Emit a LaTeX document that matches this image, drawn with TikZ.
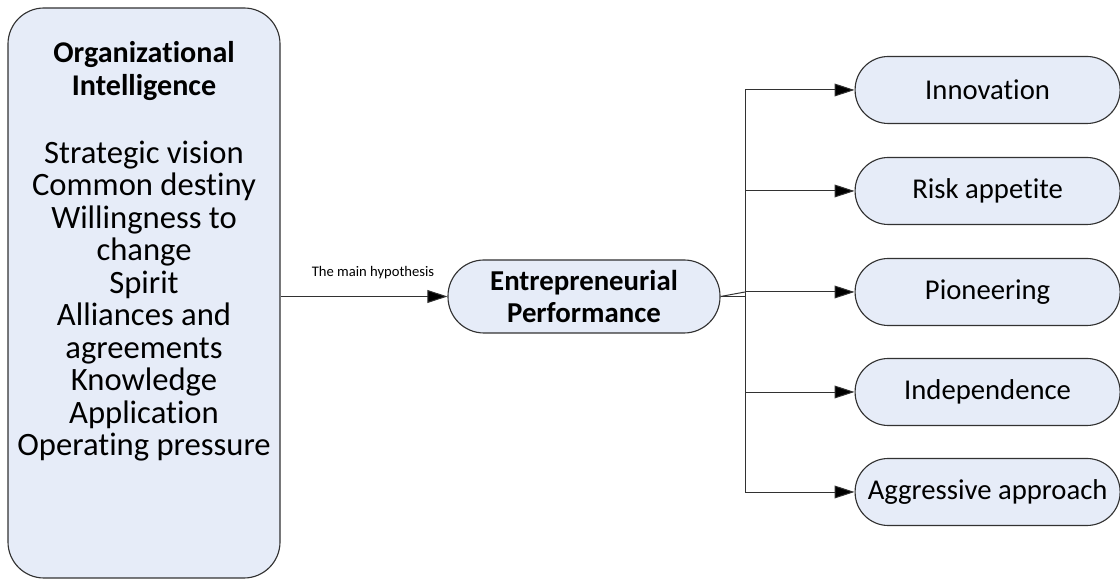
\documentclass[tikz,border=0pt]{standalone}
\usepackage{fontspec}
\setmainfont{Carlito}[Ligatures=NoCommon]
\usetikzlibrary{positioning, arrows.meta, calc}
\definecolor{boxfill}{RGB}{230,236,248}
\definecolor{edgegray}{RGB}{50,50,50}

\begin{document}
\begin{tikzpicture}[
	bigbox/.style={draw=edgegray,line width=0.8pt,fill=boxfill,rounded corners=0.9cm,
		minimum width=6.8cm,minimum height=14.25cm},
	pill/.style={draw=edgegray,line width=0.8pt,fill=boxfill,rounded corners=0.83cm,
		minimum width=6.625cm,minimum height=1.675cm,font=\fontsize{20.4}{22}\selectfont},
	arr/.style={draw=edgegray,line width=0.7pt,-{Triangle[length=0.5cm,width=0.32cm,fill=black]}}]
	\useasboundingbox (0,0) rectangle (28,14.5);
	% left block
	\node[bigbox] (oi) at (3.6,7.175) {};
	\node[align=center,font=\bfseries\fontsize{21.4}{23.5}\selectfont] (oititle) at (3.6,12.725)
		{Organizational\\Intelligence};
	\node[align=center,font=\fontsize{23.2}{23.1}\selectfont] (oilist) at (3.6,6.975)
		{Strategic vision\\Common destiny\\Willingness to\\change\\Spirit\\Alliances and\\
		agreements\\Knowledge\\Application\\Operating pressure};
	% middle
	\node[draw=edgegray,line width=0.8pt,fill=boxfill,rounded corners=0.9cm,
		minimum width=6.8cm,minimum height=1.825cm,align=center,
		font=\bfseries\fontsize{20.5}{23}\selectfont] (ep) at (14.6,7.0875)
		{Entrepreneurial\\Performance};
	% right column
	\node[pill] (inn) at (24.69,12.25) {Innovation};
	\node[pill] (risk) at (24.69,9.725) {Risk appetite};
	\node[pill] (pio) at (24.69,7.2) {Pioneering};
	\node[pill] (ind) at (24.69,4.7) {Independence};
	\node[pill] (agg) at (24.69,2.2) {Aggressive approach};
	\coordinate (j) at (18.625,7.2);
	% connectors
	\draw[arr] (ep.west -| oi.east) -- node[above=0.3cm,xshift=0.225cm,font=\fontsize{10.4}{12}\selectfont] (hyp)
		{The main hypothesis} (ep.west);
	\draw[draw=edgegray,line width=0.7pt] (inn.west -| j) -- (agg.west -| j);
	\draw[draw=edgegray,line width=0.7pt] (ep.east) -- (ep.east -| j);
	\draw[draw=edgegray,line width=0.7pt] (ep.east) -- (j);
	\draw[arr] (inn.west -| j) -- (inn.west);
	\draw[arr] (risk.west -| j) -- (risk.west);
	\draw[arr] (j) -- (pio.west);
	\draw[arr] (ind.west -| j) -- (ind.west);
	\draw[arr] (agg.west -| j) -- (agg.west);
\end{tikzpicture}
\end{document}
